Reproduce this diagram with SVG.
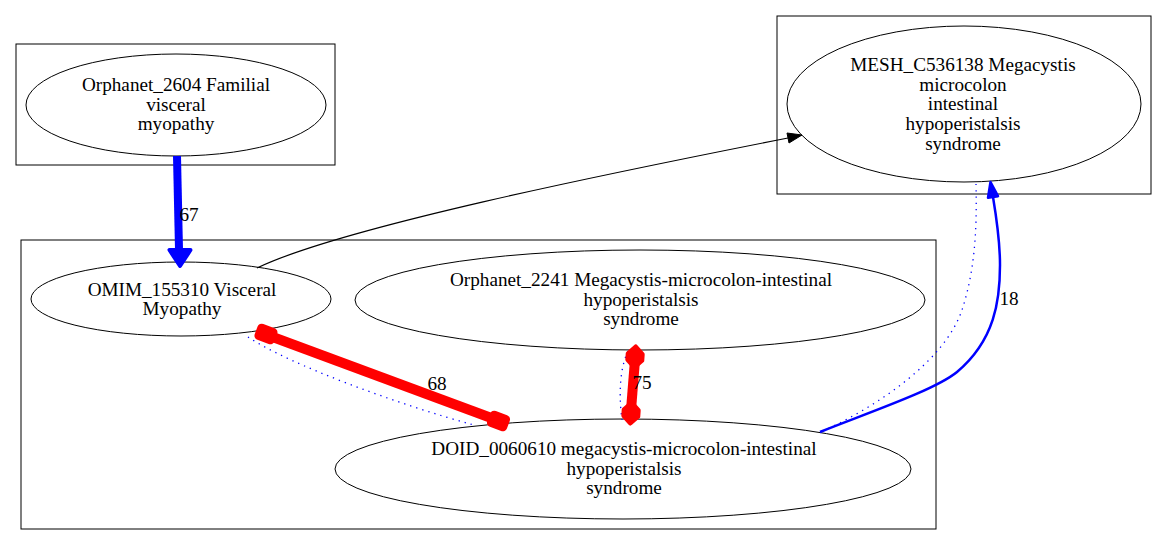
<svg xmlns="http://www.w3.org/2000/svg" width="1167" height="546" viewBox="0 0 1167 546">
<style>
.cl{fill:none;stroke:#000;stroke-width:1}
.nd{fill:none;stroke:#000;stroke-width:1}
.t{font-family:'Liberation Serif','Times New Roman','DejaVu Serif',serif;font-size:19.2px;fill:#000;text-anchor:middle}
.dot{fill:none;stroke:#0000ff;stroke-width:1.3;stroke-dasharray:1.3,5}
.red{fill:none;stroke:#ff0000;stroke-width:10}
.blob{fill:#ff0000;stroke:#ff0000;stroke-width:5;stroke-linejoin:round}
</style>
<rect width="1167" height="546" fill="#fff"/>
<g id="clusters">
<rect class="cl" x="16" y="44" width="319" height="121"/>
<rect class="cl" x="777" y="16" width="374" height="178"/>
<rect class="cl" x="21" y="240" width="915" height="289"/>
</g>
<g id="node-orphanet2604">
<ellipse class="nd" cx="176" cy="105" rx="150" ry="51"/>
<text class="t" x="176" y="91">Orphanet_2604 Familial</text>
<text class="t" x="176" y="110.5">visceral</text>
<text class="t" x="176" y="130">myopathy</text>
</g>
<g id="node-mesh">
<ellipse class="nd" cx="964" cy="104" rx="177" ry="78"/>
<text class="t" x="963" y="71">MESH_C536138 Megacystis</text>
<text class="t" x="963" y="90.5">microcolon</text>
<text class="t" x="963" y="110">intestinal</text>
<text class="t" x="963" y="130">hypoperistalsis</text>
<text class="t" x="963" y="149.5">syndrome</text>
</g>
<g id="node-omim">
<ellipse class="nd" cx="181" cy="299" rx="150" ry="37"/>
<text class="t" x="182" y="295.5">OMIM_155310 Visceral</text>
<text class="t" x="182" y="315">Myopathy</text>
</g>
<g id="node-orphanet2241">
<ellipse class="nd" cx="640" cy="300" rx="285" ry="50"/>
<text class="t" x="641" y="286">Orphanet_2241 Megacystis-microcolon-intestinal</text>
<text class="t" x="641" y="305.5">hypoperistalsis</text>
<text class="t" x="641" y="325">syndrome</text>
</g>
<g id="node-doid">
<ellipse class="nd" cx="623" cy="469" rx="288" ry="50"/>
<text class="t" x="624" y="455">DOID_0060610 megacystis-microcolon-intestinal</text>
<text class="t" x="624" y="474.5">hypoperistalsis</text>
<text class="t" x="624" y="494">syndrome</text>
</g>
<g id="connectors">
<path d="M177,156 L179,250" fill="none" stroke="#0000ff" stroke-width="8"/>
<polygon points="169.5,250 190.5,250 180,266" fill="#0000ff" stroke="#0000ff" stroke-width="4" stroke-linejoin="round"/>
<text class="t" x="189" y="221">67</text>
<path d="M257,268 C340,228 600,175 788,138" fill="none" stroke="#000" stroke-width="1.2"/>
<polygon points="787,133 789,143 802,135" fill="#000" stroke="#000" stroke-width="1"/>
<path class="dot" d="M248,337 C290,365 400,405 474,425"/>
<path class="red" d="M270,336 L494,419"/>
<rect class="blob" x="-8" y="-6" width="16" height="12" rx="2" transform="translate(266,334) rotate(20.6)"/>
<rect class="blob" x="-8" y="-6" width="16" height="12" rx="2" transform="translate(498.5,421) rotate(20.6)"/>
<text class="t" x="437" y="390">68</text>
<path class="dot" d="M628,351 C619,370 619,398 622,420"/>
<path class="red" d="M635,360 L631,410"/>
<polygon class="blob" points="-10,0 -3,-7 3,-7 10,0 3,7 -3,7" transform="translate(635,357) rotate(94)"/>
<polygon class="blob" points="-10,0 -3,-7 3,-7 10,0 3,7 -3,7" transform="translate(631,413) rotate(94)"/>
<text class="t" x="642" y="389">75</text>
<path class="dot" d="M823,431 C880,405 945,360 962,310 C975,270 977,230 976,184"/>
<path d="M820,432 C870,412 935,390 957,372 C995,340 1000,300 1000,265 C1000,240 996,215 993,197" fill="none" stroke="#0000ff" stroke-width="2.5"/>
<polygon points="998,196.2 988,197.8 990.5,182" fill="#0000ff" stroke="#0000ff" stroke-width="2.5" stroke-linejoin="round"/>
<text class="t" x="1009" y="305">18</text>
</g>
</svg>
